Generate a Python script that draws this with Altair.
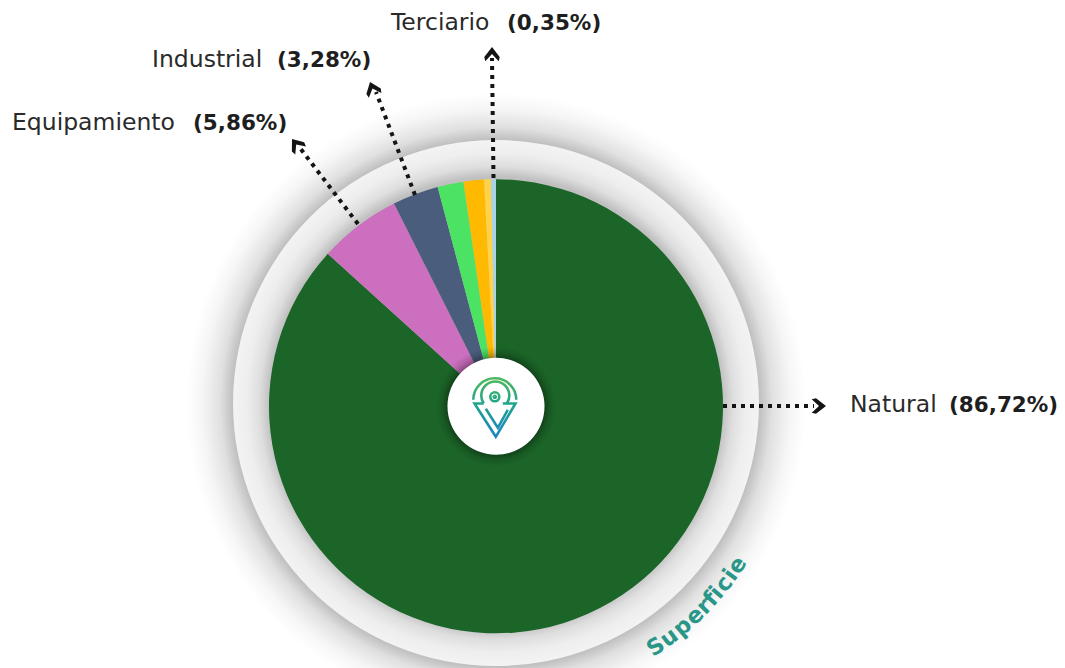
import math
import altair as alt
import pandas as pd

# ---- pie values
slice_names = ["Natural", "Equipamiento", "Industrial", "Verde", "Naranja", "Amarillo", "Terciario"]
slice_values = [86.72, 5.86, 3.28, 1.85, 1.45, 0.49, 0.35]
slice_colors = ["#1B6528", "#CB6FBE", "#4A5D7C", "#4CE264", "#FFB900", "#FFD347", "#A9D3E8"]

# ---- labels
label_names = ["Natural", "Equipamiento", "Industrial", "Terciario"]
label_values = ["(86,72%)", "(5,86%)", "(3,28%)", "(0,35%)"]
name_x = [850, 12, 152, 391]
value_x = [949, 193, 277, 507]
label_y = [412, 130, 66.5, 29.5]

# ---- leader lines
lead_x1 = [723, 358, 415, 493.5]
lead_y1 = [406, 224, 195, 178]
lead_x2 = [814, 300, 376, 492]
lead_y2 = [406, 148, 92, 58]
tip_x = [826, 292, 370, 492]
tip_y = [406, 139, 82, 47]
tip_angle = [90, 323, 339, 0]

# ---- curved caption
cap_chars = list("Superficie")
cap_theta = [146.4, 143.2, 139.8, 136.5, 133.9, 131.9, 130.2, 127.9, 125.7, 123.4]
cap_radius = 289

CX, CY = 496, 406.3
RING_CY = 403
W, H = 1049, 660
vx, vy = CX - 8, CY - 8

FONT = "DejaVu Sans"
INK = "#2A2A2A"

xs = alt.Scale(domain=[8, 8 + W])
ys = alt.Scale(domain=[8 + H, 8])
one = pd.DataFrame({"k": [1]})


def radial(stops):
    return alt.RadialGradient(
        gradient="radial", x1=0.5, y1=0.5, x2=0.5, y2=0.5, r1=0, r2=0.5,
        stops=[alt.GradientStop(offset=o, color=c) for o, c in stops],
    )


def disc(r, fill, cy=CY):
    return alt.Chart(one).mark_arc(theta=0, theta2=2 * math.pi, radius=r, fill=fill).encode(
        x=alt.value(vx), y=alt.value(cy - 8)
    )


outer_shadow = disc(310, radial([(0.845, "#bcbcbc"), (0.89, "#e0e0e0"), (0.95, "#f6f6f6"), (1, "#ffffff")]), RING_CY)
ring = disc(263, radial([(0.86, "#c0c0c0"), (0.9, "#dedede"), (0.95, "#eeeeee"), (1, "#f3f3f3")]), RING_CY)

pie_df = pd.DataFrame({"name": slice_names, "v": slice_values, "i": range(len(slice_names))})
pie = alt.Chart(pie_df).mark_arc(radius=227).encode(
    theta=alt.Theta("v:Q", stack=True, scale=alt.Scale(domain=[0, 100], range=[0, 2 * math.pi])),
    color=alt.Color("name:N", scale=alt.Scale(domain=slice_names, range=slice_colors), legend=None),
    order=alt.Order("i:Q"),
    x=alt.value(vx),
    y=alt.value(vy),
)

hub_shadow = disc(60, radial([(0.8, "rgba(0,0,0,0.35)"), (0.9, "rgba(0,0,0,0.12)"), (1, "rgba(0,0,0,0)")]))
hub = disc(48.5, "#ffffff")

logo_df = pd.DataFrame({"x": [494.8], "y": [396.8]})
logo_path = (
    "M-21.5,3 A21.5,21.5 0 1 1 21.5,3 "
    "M-11,6.7 L-20.3,6.7 L1,40 L20.7,6.7 L8,6.7 "
    "M-11,6.7 A14,14 0 1 1 12,6.7 "
    "M-9,12 L3,31 L13,13 "
    "M-4.5,0 A4.5,4.5 0 1 1 4.5,0 A4.5,4.5 0 1 1 -4.5,0 "
    "M-1,0 A1,1 0 1 1 1,0 A1,1 0 1 1 -1,0"
)
logo = alt.Chart(logo_df).mark_point(
    shape=logo_path, size=4, filled=False, strokeWidth=2.6, opacity=1,
    stroke=alt.LinearGradient(
        gradient="linear", x1=0.5, y1=0, x2=0.5, y2=1,
        stops=[alt.GradientStop(offset=0, color="#4DB85C"),
               alt.GradientStop(offset=0.45, color="#1FA58C"),
               alt.GradientStop(offset=1, color="#1A84C4")],
    ),
).encode(x=alt.X("x:Q", scale=xs, axis=None), y=alt.Y("y:Q", scale=ys, axis=None))

lead_df = pd.DataFrame({"x": lead_x1, "y": lead_y1, "x2": lead_x2, "y2": lead_y2})
leads = alt.Chart(lead_df).mark_rule(color="#141414", strokeWidth=4, strokeDash=[4, 5]).encode(
    x=alt.X("x:Q", scale=xs, axis=None), y=alt.Y("y:Q", scale=ys, axis=None), x2="x2:Q", y2="y2:Q"
)

tip_df = pd.DataFrame({"x": tip_x, "y": tip_y, "a": tip_angle})
tips = alt.Chart(tip_df).mark_point(
    shape="M0,0 L7.7,10 L6.7,14.3 L0,7 L-6.7,14.3 L-7.7,10 Z", size=4, filled=True,
    color="#141414", opacity=1,
).encode(
    x=alt.X("x:Q", scale=xs, axis=None), y=alt.Y("y:Q", scale=ys, axis=None),
    angle=alt.Angle("a:Q", scale=None),
)

lab_df = pd.DataFrame({"name": label_names, "val": label_values, "nx": name_x, "vx": value_x, "y": label_y})
names = alt.Chart(lab_df).mark_text(
    align="left", baseline="alphabetic", font=FONT, fontSize=23.5, color=INK
).encode(x=alt.X("nx:Q", scale=xs, axis=None), y=alt.Y("y:Q", scale=ys, axis=None), text="name:N")
vals = alt.Chart(lab_df).mark_text(
    align="left", baseline="alphabetic", font=FONT, fontSize=21.5, color="#1E1E1E", fontWeight="bold"
).encode(x=alt.X("vx:Q", scale=xs, axis=None), y=alt.Y("y:Q", scale=ys, axis=None), text="val:N")

cap_df = pd.DataFrame({
    "c": cap_chars,
    "x": [CX + cap_radius * math.sin(math.radians(t)) for t in cap_theta],
    "y": [CY - cap_radius * math.cos(math.radians(t)) for t in cap_theta],
    "a": [t + 180 for t in cap_theta],
})
caption = alt.Chart(cap_df).mark_text(
    align="center", baseline="middle", font=FONT, fontSize=22.5, fontWeight="bold", color="#2A9688"
).encode(
    x=alt.X("x:Q", scale=xs, axis=None), y=alt.Y("y:Q", scale=ys, axis=None),
    text="c:N", angle=alt.Angle("a:Q", scale=None),
)

chart = alt.layer(
    outer_shadow, ring, pie, hub_shadow, hub, logo, leads, tips, names, vals, caption
).resolve_scale(color="independent").properties(
    width=W, height=H, padding=0, autosize=alt.AutoSizeParams(type="none"),
    background="#ffffff",
).configure_view(stroke=None)

chart.save("out.html", embed_options={"renderer": "svg", "actions": False})
